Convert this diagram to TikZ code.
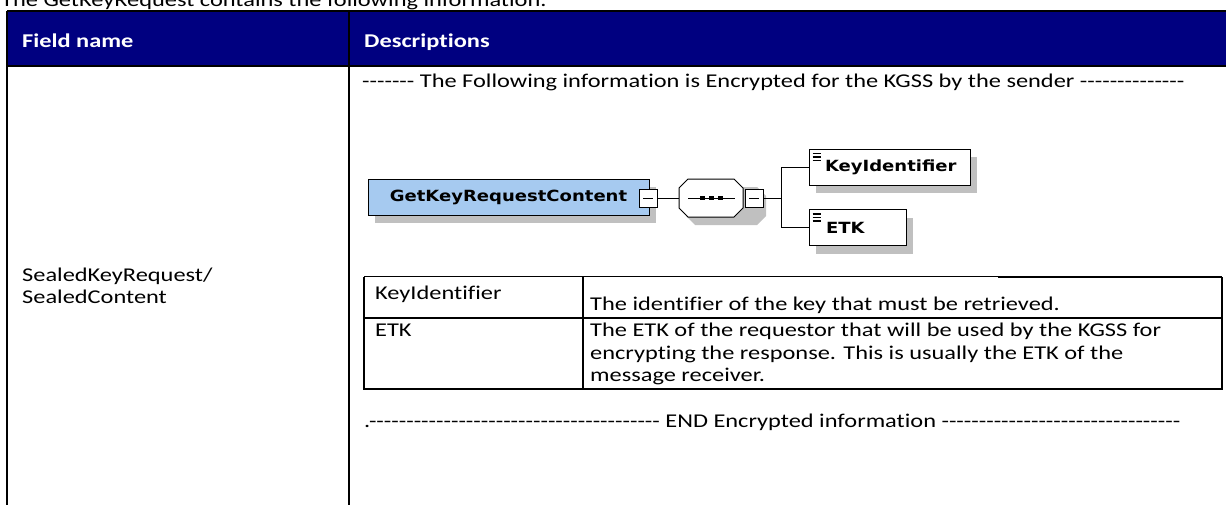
\documentclass[tikz,border=0pt]{standalone}
\usepackage{fontspec}
\setmainfont{Carlito}[FakeStretch=1.25, Ligatures={TeXOff,NoCommon}]
\newfontfamily\xsdfont{DejaVu Sans}[FakeStretch=1.17]
\usetikzlibrary{shadows}
\definecolor{hdrnavy}{RGB}{0,0,128}
\definecolor{xsdblue}{RGB}{166,202,240}
\definecolor{shadowgrey}{RGB}{192,192,192}
\begin{document}
\begin{tikzpicture}[x=1pt,y=-1pt,
  body/.style={anchor=base west, inner sep=0pt, font=\fontsize{19.5}{23}\selectfont},
  headtext/.style={anchor=base west, inner sep=0pt, font=\fontsize{19.5}{23}\selectfont\bfseries, text=white},
  outerrule/.style={line width=2pt, draw=black},
  innerrule/.style={line width=1.4pt, draw=black},
  xsdshadow/.style={drop shadow={shadow xshift=7pt, shadow yshift=-8pt, fill=shadowgrey, opacity=1}},
  typebox/.style={draw=black, line width=1pt, fill=xsdblue, minimum height=36pt, inner sep=0pt,
    font=\xsdfont\bfseries\fontsize{15.4}{17}\selectfont, xsdshadow},
  elembox/.style={draw=black, line width=1pt, fill=white, minimum height=36pt, align=left,
    inner ysep=0pt, font=\xsdfont\bfseries\fontsize{15.4}{17}\selectfont, xsdshadow},
  minusbox/.style={draw=black, fill=white, line width=1pt, minimum size=18pt, inner sep=0pt},
  conn/.style={draw=black, line width=1pt},
]
\useasboundingbox (0,0) rectangle (1226,504);
\clip (0,0) rectangle (1226,504);

% caption (cut at the top)
\node[body] (caption) at (1,6) {The GetKeyRequest contains the following information.};

% outer table header
\fill[hdrnavy] (7,11) rectangle (1240,66);
\draw[outerrule] (7,11) -- (1240,11);
\draw[outerrule] (7,66) -- (1240,66);
\draw[outerrule] (7,11) -- (7,510);
\draw[outerrule] (349,11) -- (349,510);
\node[headtext] (hfield) at (22,47) {Field name};
\node[headtext] (hdesc) at (364,47) {Descriptions};

% left cell
\node[body] (field1) at (22,281) {SealedKeyRequest/};
\node[body] (field2) at (22,303) {SealedContent};

% description cell
\node[body] (encstart) at (362,87) {------- The Following information is Encrypted for the KGSS by the sender --------------};

% XSD diagram
\node[typebox, minimum width=281pt] (gk) at (508.5,197) {GetKeyRequestContent};
\node[minusbox] (m1) at (648,198) {};
\draw[line width=1pt] ([xshift=-5pt]m1.center) -- ([xshift=5pt]m1.center);

\coordinate (seqc) at (711,198);
\fill[shadowgrey] (695,187) -- (757,187) -- (766,196) -- (766,216) -- (757,225) -- (695,225) -- (686,216) -- (686,196) -- cycle;
\node[minimum width=64pt, minimum height=38pt, inner sep=0pt] (seq) at (seqc) {};
\draw[line width=1pt, fill=white] (688,179) -- (734,179) -- (743,188) -- (743,208) -- (734,217) -- (688,217) -- (679,208) -- (679,188) -- cycle;
\draw[line width=1pt] (688,198) -- (735,198);
\fill (700,196) rectangle (705,200);
\fill (709,196) rectangle (714,200);
\fill (718,196) rectangle (723,200);
\node[minusbox] (m2) at (754,198) {};
\draw[line width=1pt] ([xshift=-5pt]m2.center) -- ([xshift=5pt]m2.center);

\node[elembox, text width=141pt, inner xsep=10pt] (kid) at (889.5,167) {\mbox{\hspace*{6pt}KeyIdentifier}};
\node[elembox, text width=63pt, inner xsep=17pt] (etk) at (857.5,227.5) {\mbox{ETK}};
\foreach \b in {kid,etk}{
  \draw[line width=1.1pt] ([xshift=4pt,yshift=-5pt]\b.north west) -- ++(8,0);
  \draw[line width=1.1pt] ([xshift=4pt,yshift=-8.5pt]\b.north west) -- ++(8,0);
  \draw[line width=1.1pt] ([xshift=4pt,yshift=-12pt]\b.north west) -- ++(8,0);
}
\coordinate (br) at (781,198);
\draw[conn] (m1.east) -- (seq.west);
\draw[conn] (m2.east) -- (br);
\draw[conn] (br) |- (kid.west);
\draw[conn] (br) |- (etk.west);

% inner table
\draw[line width=1pt] (364,276.5) -- (998,276.5);
\draw[innerrule] (998,277) -- (1222,277);
\draw[innerrule] (364,276.5) -- (364,389) -- (1222,389) -- (1222,277);
\draw[innerrule] (583,277) -- (583,389);
\draw[innerrule] (364,318) -- (1222,318);
\node[body] (kidname) at (375,299) {KeyIdentifier};
\node[body] (kiddesc) at (590,310) {The identifier of the key that must be retrieved.};
\node[body] (etkname) at (375,336) {ETK};
\node[body] (etkd1) at (590,336) {The ETK of the requestor that will be used by the KGSS for};
\node[body] (etkd2) at (590,359) {encrypting the response. This is usually the ETK of the};
\node[body] (etkd3) at (590,381) {message receiver.};

\node[body] (encend) at (364,427) {.--------------------------------------- END Encrypted information --------------------------------};
\end{tikzpicture}
\end{document}
